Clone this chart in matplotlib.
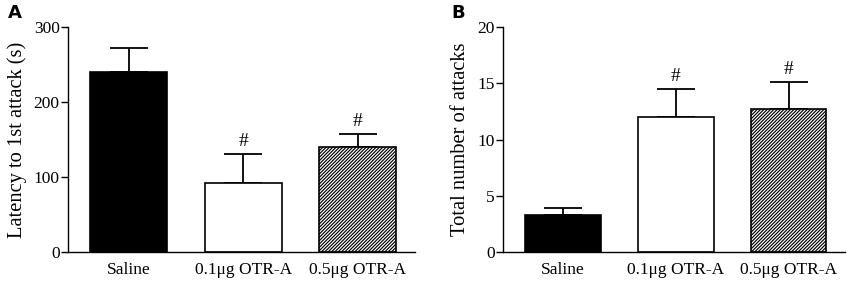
import matplotlib
matplotlib.use("Agg")
import matplotlib.pyplot as plt
import numpy as np

plt.rcParams['hatch.linewidth'] = 0.85

categories = ["Saline", "0.1\u03bcg OTR-A", "0.5\u03bcg OTR-A"]
latency = [240, 92, 140]
latency_err = [32, 39, 17]
attacks = [3.25, 12.0, 12.75]
attacks_err = [0.7, 2.5, 2.35]
sig = ["", "#", "#"]

fig = plt.figure(figsize=(8.5, 2.83), dpi=100)
axA = fig.add_axes([68/850, 1-252/283, (415-68)/850, (252-27)/283])
axB = fig.add_axes([503/850, 1-252/283, (845-503)/850, (252-27)/283])

serif = "Liberation Serif"

def draw(ax, vals, errs, ylim, yticks, ylabel, letter, letter_x):
    x = np.arange(len(vals))
    w = 0.67
    faces = ["black", "white", "white"]
    hatches = [None, None, "//////////"]
    for i in range(len(vals)):
        ax.bar(x[i], vals[i], width=w, color=faces[i], edgecolor="black",
               linewidth=1.2, hatch=hatches[i], zorder=2)
        ax.errorbar(x[i], vals[i], yerr=[[0], [errs[i]]], color="black",
                    capsize=13.5, elinewidth=1.3, capthick=1.3, zorder=1)
        if sig[i]:
            ax.text(x[i], vals[i] + errs[i] + ylim*0.018, sig[i], ha="center",
                    va="bottom", fontsize=14, family=serif)
    ax.set_xlim(-0.53, 2.5)
    ax.set_ylim(0, ylim)
    ax.set_yticks(yticks)
    ax.set_yticklabels([str(t) for t in yticks], family=serif, fontsize=12.5)
    ax.set_xticks(x)
    ax.set_xticklabels(categories, family=serif, fontsize=12.5)
    ax.tick_params(axis="x", length=0, pad=7)
    ax.tick_params(axis="y", length=5, width=1, pad=1)
    for s in ["top", "right"]:
        ax.spines[s].set_visible(False)
    for s in ["left", "bottom"]:
        ax.spines[s].set_linewidth(1)
    ax.set_ylabel(ylabel, family=serif, fontsize=14.8, labelpad=5)
    fig.text(letter_x/850, 1-13/283, letter, fontsize=13, fontweight="bold",
             family="DejaVu Sans", ha="left", va="center")

draw(axA, latency, latency_err, 300, [0, 100, 200, 300],
     "Latency to 1st attack (s)", "A", 8)
draw(axB, attacks, attacks_err, 20, [0, 5, 10, 15, 20],
     "Total number of attacks", "B", 451)

fig.savefig("out.png", dpi=100)
